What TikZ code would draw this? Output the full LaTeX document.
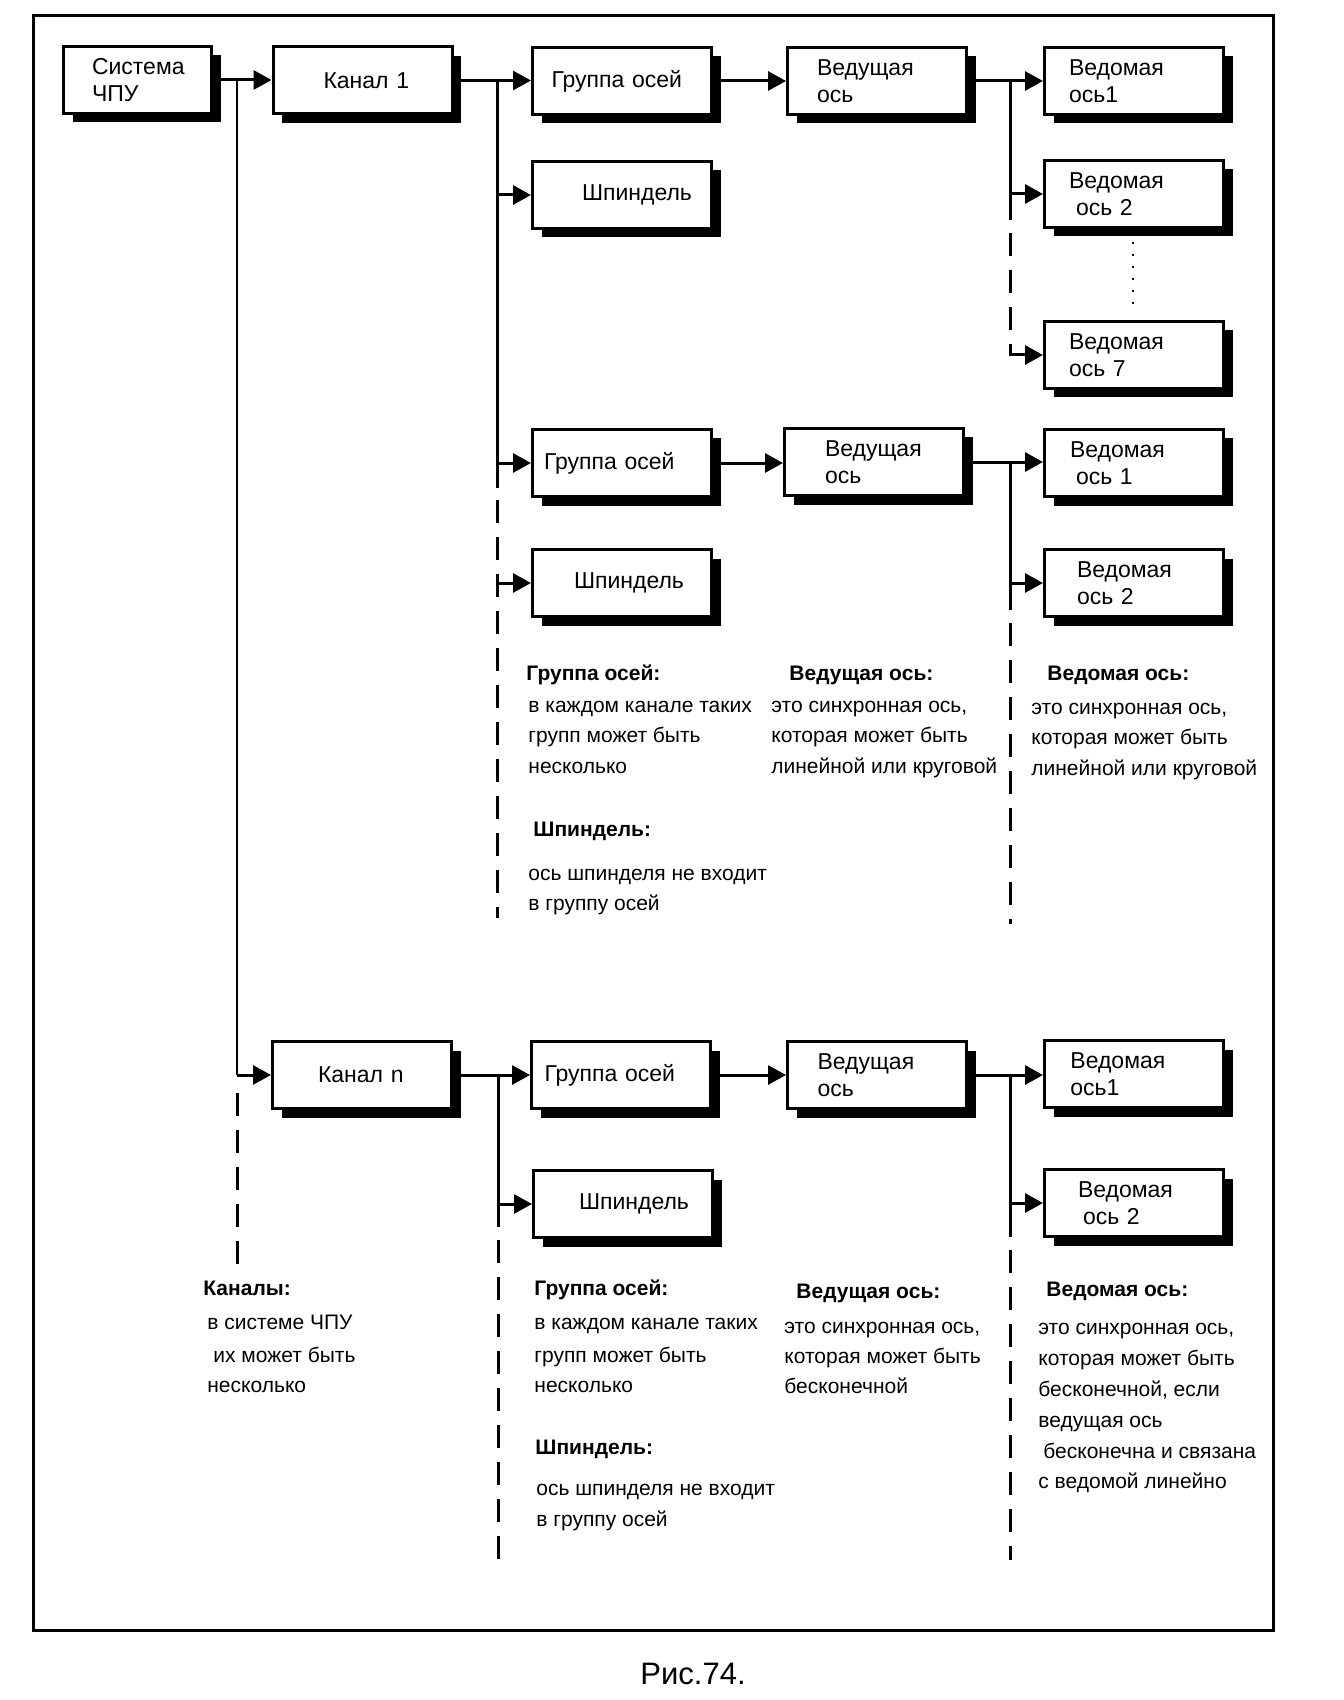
\documentclass[tikz,border=0pt]{standalone}
\usepackage{fontspec}
\setmainfont{Liberation Sans}
\usetikzlibrary{arrows.meta,shadows}
\newcommand{\boxfont}{\fontsize{11.5}{13.5}\selectfont}
\newcommand{\annfont}{\fontsize{10.5}{13}\selectfont}
\newcommand{\capfont}{\fontsize{15.5}{18}\selectfont}
\begin{document}
\begin{tikzpicture}[x=0.5pt,y=-0.5pt,
  box/.style={draw, fill=white, line width=1.5pt, minimum height=33.5pt,
    inner xsep=2pt, inner ysep=0pt, text width=85.5pt, align=left, font=\boxfont,
    execute at begin node={\leftskip=#1\relax},
    drop shadow={shadow xshift=4.5pt, shadow yshift=-4.5pt, fill=black, opacity=1}},
  sysbox/.style={box=#1, text width=70pt},
  ln/.style={line width=1.5pt},
  thinln/.style={line width=0.9pt},
  arr/.style={line width=1.5pt, -{Triangle[length=9pt,width=9.5pt]}},
  dsh/.style={line width=1.5pt, dash pattern=on 11.5pt off 7pt},
  dotln/.style={line width=1.1pt, dash pattern=on 1.2pt off 4.8pt},
  ann/.style={anchor=west, inner sep=0pt, font=\annfont, text height=1.5ex, text depth=.25ex},
  annb/.style={ann, font=\annfont\bfseries},
]
\useasboundingbox (0,0) rectangle (1343,1700);
\draw[line width=1.5pt] (33,16) rectangle (1273,1630);

% ---- boxes, upper part
\node[sysbox=12.25pt] (sys) at (137.5,80) {Система\\ЧПУ};
\node[box=23.25pt] (k1) at (362.5,80.5) {Канал 1};
\node[box=7.5pt] (g1) at (622,81) {Группа осей};
\node[box=12.75pt] (v1) at (877,81) {Ведущая\\ось};
\node[box=10.25pt] (s11) at (1134,81) {Ведомая\\ось1};
\node[box=22.75pt] (sp1) at (622,195) {Шпиндель};
\node[box=10.25pt] (s12) at (1134,194) {Ведомая\\\hspace*{3.5pt}ось 2};
\node[box=10.25pt] (s17) at (1134,355) {Ведомая\\ось 7};
\node[box=3.75pt] (g2) at (622,463) {Группа осей};
\node[box=18.25pt] (v2) at (874,462) {Ведущая\\ось};
\node[box=10.75pt] (s21) at (1134,463) {Ведомая\\\hspace*{3pt}ось 1};
\node[box=18.75pt] (sp2) at (622,583) {Шпиндель};
\node[box=14.25pt] (s22) at (1134,583) {Ведомая\\ось 2};
% ---- boxes, lower part
\node[box=20.75pt] (kn) at (362,1075) {Канал n};
\node[box=4.5pt] (gn) at (621,1075) {Группа осей};
\node[box=13pt] (vn) at (877,1075) {Ведущая\\ось};
\node[box=10.95pt] (sn1) at (1134,1074) {Ведомая\\ось1};
\node[box=20.75pt] (spn) at (623,1204) {Шпиндель};
\node[box=14.75pt] (sn2) at (1134,1203) {Ведомая\\\hspace*{2.5pt}ось 2};

% ---- trunk coordinates
\coordinate (chx) at (237,0);
\coordinate (c0) at (237,1093);
\coordinate (c1) at (237,1268);
\coordinate (t1x) at (497,0);
\coordinate (t1a) at (497,488);
\coordinate (t1b) at (497,500);
\coordinate (t1c) at (497,918);
\coordinate (t2x) at (1010,0);
\coordinate (t2a) at (1010,220);
\coordinate (t2b) at (1010,233);
\coordinate (t2c) at (1010,344);
\coordinate (dt1) at (1133,242);
\coordinate (dt2) at (1133,309);
\coordinate (t3a) at (1010,610);
\coordinate (t3b) at (1010,623);
\coordinate (t3c) at (1010,924);
\coordinate (t4x) at (498,0);
\coordinate (t4a) at (498,1227);
\coordinate (t4b) at (498,1240);
\coordinate (t4c) at (498,1563);
\coordinate (t5a) at (1010,1237);
\coordinate (t5b) at (1010,1250);
\coordinate (t5c) at (1010,1560);

% ---- system -> channels
\draw[arr] (sys.east) -- (sys.east -| k1.west);
\draw[thinln] (sys.east -| chx) -- (kn.west -| chx);
\draw[arr] (kn.west -| chx) -- (kn.west);
\draw[dsh] (c0) -- (c1);

% ---- channel 1
\draw[arr] (k1.east) -- (k1.east -| g1.west);
\draw[ln] (k1.east -| t1x) -- (t1a);
\draw[dsh] (t1b) -- (t1c);
\draw[arr] (sp1.west -| t1x) -- (sp1.west);
\draw[arr] (g2.west -| t1x) -- (g2.west);
\draw[arr] (sp2.west -| t1x) -- (sp2.west);

\draw[arr] (g1.east) -- (g1.east -| v1.west);
\draw[arr] (v1.east) -- (v1.east -| s11.west);
\draw[ln] (v1.east -| t2x) -- (t2a);
\draw[arr] (s12.west -| t2x) -- (s12.west);
\draw[dsh] (t2b) -- (t2c);
\draw[arr] (t2c) |- (s17.west);
\draw[dotln] (dt1) -- (dt2);

\draw[arr] (g2.east) -- (g2.east -| v2.west);
\draw[arr] (v2.east) -- (v2.east -| s21.west);
\draw[ln] (v2.east -| t2x) -- (t3a);
\draw[arr] (s22.west -| t2x) -- (s22.west);
\draw[dsh] (t3b) -- (t3c);

% ---- channel n
\draw[arr] (kn.east) -- (kn.east -| gn.west);
\draw[ln] (kn.east -| t4x) -- (t4a);
\draw[arr] (spn.west -| t4x) -- (spn.west);
\draw[dsh] (t4b) -- (t4c);
\draw[arr] (gn.east) -- (gn.east -| vn.west);
\draw[arr] (vn.east) -- (vn.east -| sn1.west);
\draw[ln] (vn.east -| t2x) -- (t5a);
\draw[arr] (sn2.west -| t2x) -- (sn2.west);
\draw[dsh] (t5b) -- (t5c);

% ---- annotations, upper part
\node[annb] (a1) at (526,674) {Группа осей:};
\node[ann] (a2) at (528,706) {в каждом канале таких};
\node[ann] (a3) at (528,736) {групп может быть};
\node[ann] (a4) at (528,767) {несколько};
\node[annb] (a5) at (533,830) {Шпиндель:};
\node[ann] (a6) at (528,874) {ось шпинделя не входит};
\node[ann] (a7) at (528,904) {в группу осей};
\node[annb] (b1) at (789,674) {Ведущая ось:};
\node[ann] (b2) at (771,706) {это синхронная ось,};
\node[ann] (b3) at (771,736) {которая может быть};
\node[ann] (b4) at (771,767) {линейной или круговой};
\node[annb] (c1t) at (1047,674) {Ведомая ось:};
\node[ann] (c2) at (1031,708) {это синхронная ось,};
\node[ann] (c3) at (1031,738) {которая может быть};
\node[ann] (c4) at (1031,769) {линейной или круговой};

% ---- annotations, lower part
\node[annb] (d1) at (203,1289) {Каналы:};
\node[ann] (d2) at (207,1323) {в системе ЧПУ};
\node[ann] (d3) at (213,1356) {их может быть};
\node[ann] (d4) at (207,1386) {несколько};
\node[annb] (e1) at (534,1289) {Группа осей:};
\node[ann] (e2) at (534,1323) {в каждом канале таких};
\node[ann] (e3) at (534,1356) {групп может быть};
\node[ann] (e4) at (534,1386) {несколько};
\node[annb] (e5) at (535,1448) {Шпиндель:};
\node[ann] (e6) at (536,1489) {ось шпинделя не входит};
\node[ann] (e7) at (536,1520) {в группу осей};
\node[annb] (f1) at (796,1292) {Ведущая ось:};
\node[ann] (f2) at (784,1327) {это синхронная ось,};
\node[ann] (f3) at (784,1357) {которая может быть};
\node[ann] (f4) at (784,1387) {бесконечной};
\node[annb] (h1) at (1046,1290) {Ведомая ось:};
\node[ann] (h2) at (1038,1328) {это синхронная ось,};
\node[ann] (h3) at (1038,1359) {которая может быть};
\node[ann] (h4) at (1038,1390) {бесконечной, если};
\node[ann] (h5) at (1038,1421) {ведущая ось};
\node[ann] (h6) at (1043,1452) {бесконечна и связана};
\node[ann] (h7) at (1038,1482) {с ведомой линейно};

% ---- caption
\node[font=\capfont, inner sep=0pt] (cap) at (693,1674) {Рис.74.};
\end{tikzpicture}
\end{document}
